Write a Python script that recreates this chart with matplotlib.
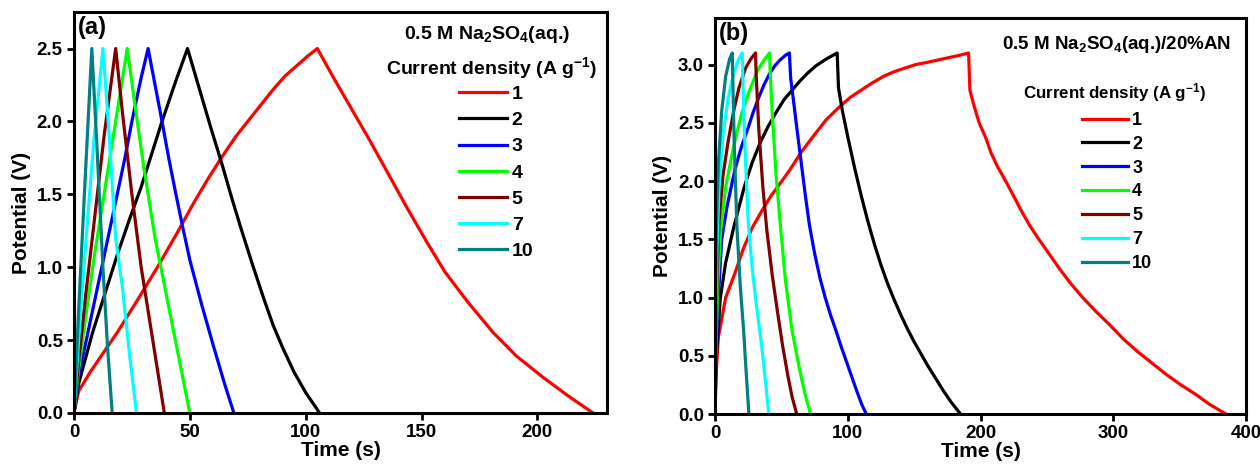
import matplotlib
matplotlib.use('Agg')
import matplotlib.pyplot as plt

plt.rcParams['font.family'] = ['Liberation Sans', 'DejaVu Sans']
plt.rcParams['font.weight'] = 'bold'
plt.rcParams['mathtext.fontset'] = 'custom'
plt.rcParams['mathtext.rm'] = 'Liberation Sans:bold'
plt.rcParams['mathtext.bf'] = 'Liberation Sans:bold'
plt.rcParams['mathtext.default'] = 'bf'

labels = ['1', '2', '3', '4', '5', '7', '10']
colors = ['#ff0000', '#000000', '#0000ff', '#00ff00', '#800000', '#00ffff', '#008080']

# panel (a): 0.5 M Na2SO4(aq.)  -- time (s), potential (V)
a_t = [
    [0, 2, 7, 19, 28, 36, 44, 52, 58, 64, 70, 75, 80, 86, 91, 96, 101, 105,
     112, 120, 128, 136, 144, 152, 160, 170, 181, 191, 202, 213, 224],
    [0, 2, 8, 14, 19, 24, 29, 34, 38, 44, 49, 54, 59, 64, 68, 72, 77, 82, 86, 90, 95, 100, 106],
    [0, 2, 6, 12, 18, 22, 25, 29, 32, 35, 38, 41, 44, 47, 50, 55, 60, 65, 69],
    [0, 2, 5, 9, 14, 19, 23, 26, 30, 35, 40, 45, 50],
    [0, 2, 5, 9, 13, 18, 21, 25, 29, 33, 36, 39],
    [0, 2, 5, 8.5, 12.5, 15, 18, 21, 24, 27],
    [0, 2, 4.5, 7.7, 10, 12.5, 14.5, 16.5],
]
a_v = [
    [0, 0.15, 0.28, 0.56, 0.79, 1.0, 1.22, 1.45, 1.61, 1.76, 1.9, 2.0, 2.1, 2.22, 2.31, 2.38, 2.45, 2.5,
     2.3, 2.08, 1.86, 1.63, 1.4, 1.18, 0.97, 0.76, 0.55, 0.39, 0.25, 0.12, 0],
    [0, 0.2, 0.55, 0.85, 1.1, 1.33, 1.55, 1.8, 2.0, 2.28, 2.5, 2.23, 1.96, 1.7, 1.48, 1.27, 1.02, 0.78, 0.6, 0.45, 0.28, 0.14, 0],
    [0, 0.25, 0.55, 1.0, 1.45, 1.75, 2.0, 2.3, 2.5, 2.25, 2.0, 1.74, 1.5, 1.27, 1.05, 0.75, 0.47, 0.2, 0],
    [0, 0.3, 0.65, 1.1, 1.6, 2.1, 2.5, 2.15, 1.7, 1.2, 0.8, 0.4, 0],
    [0, 0.35, 0.8, 1.35, 1.9, 2.5, 2.05, 1.5, 1.0, 0.6, 0.3, 0],
    [0, 0.5, 1.15, 1.85, 2.5, 1.95, 1.2, 0.85, 0.4, 0],
    [0, 0.7, 1.5, 2.5, 1.8, 1.0, 0.45, 0],
]

# panel (b): 0.5 M Na2SO4(aq.)/20%AN
b_t = [
    [0, 0.5, 2.5, 8, 15, 21, 28, 35, 42, 49, 56, 65, 75, 84, 94, 102, 110, 118, 127, 135, 143, 151, 160, 168, 176, 184, 191,
     192, 195, 199, 204, 208, 213, 219, 225, 231, 237, 244, 252, 260, 268, 277, 287, 297, 308, 319, 330, 340, 351, 362, 373, 385],
    [0, 1, 4, 8, 14, 22, 28, 34, 40, 46, 52, 58, 64, 70, 76, 84, 92,
     93, 96, 100, 105, 110, 115, 120, 125, 130, 135, 140, 145, 150, 155, 160, 166, 172, 178, 185],
    [0, 0.5, 2, 5, 9, 15, 20, 25, 29, 33, 37, 41, 45, 49, 53, 56,
     57, 59, 62, 65, 68, 71, 75, 79, 83, 87, 91, 95, 99, 103, 107, 111, 114],
    [0, 0.5, 2, 4, 8, 14, 20, 26, 32, 37, 41, 41.5, 43, 46, 49, 53, 58, 62, 66, 69, 72],
    [0, 0.5, 1.5, 3, 6, 10, 14, 18, 23, 27, 30.5, 31, 33, 36, 39, 43, 47, 51, 55, 58, 61.5],
    [0, 0.5, 1.5, 3, 6, 10, 14, 17.5, 20.5, 21, 22.5, 25, 28, 31, 35, 38, 40.5],
    [0, 0.3, 1, 2.5, 5, 8, 11, 13, 13.5, 14.5, 16.5, 19, 21.5, 23.5, 25.5],
]
b_v = [
    [0, 0.3, 0.66, 1.0, 1.21, 1.41, 1.6, 1.74, 1.87, 1.98, 2.09, 2.25, 2.4, 2.53, 2.64, 2.72, 2.78, 2.84, 2.9, 2.94, 2.97, 3.0, 3.02, 3.04, 3.06, 3.08, 3.1,
     2.78, 2.65, 2.5, 2.37, 2.24, 2.12, 2.0, 1.87, 1.74, 1.62, 1.5, 1.37, 1.24, 1.12, 1.0, 0.88, 0.77, 0.64, 0.53, 0.43, 0.34, 0.25, 0.17, 0.08, 0],
    [0, 0.5, 1.0, 1.3, 1.6, 1.95, 2.16, 2.33, 2.47, 2.59, 2.7, 2.78, 2.86, 2.93, 2.99, 3.05, 3.1,
     2.8, 2.6, 2.38, 2.12, 1.88, 1.66, 1.46, 1.28, 1.12, 0.98, 0.85, 0.73, 0.62, 0.52, 0.42, 0.31, 0.2, 0.1, 0],
    [0, 0.4, 0.9, 1.5, 1.78, 2.1, 2.3, 2.46, 2.6, 2.72, 2.83, 2.92, 2.99, 3.04, 3.08, 3.1,
     2.88, 2.7, 2.42, 2.15, 1.88, 1.63, 1.38, 1.17, 1.0, 0.85, 0.72, 0.58, 0.45, 0.32, 0.19, 0.07, 0],
    [0, 0.5, 1.1, 1.55, 1.95, 2.3, 2.58, 2.78, 2.95, 3.04, 3.1, 2.95, 2.6, 2.05, 1.65, 1.15, 0.72, 0.48, 0.26, 0.12, 0],
    [0, 0.6, 1.2, 1.65, 2.05, 2.35, 2.6, 2.8, 2.97, 3.05, 3.1, 2.9, 2.44, 1.95, 1.58, 1.2, 0.88, 0.58, 0.32, 0.15, 0],
    [0, 0.8, 1.45, 1.95, 2.4, 2.72, 2.92, 3.04, 3.1, 2.85, 2.3, 1.65, 1.25, 0.95, 0.6, 0.28, 0],
    [0, 0.9, 1.6, 2.15, 2.6, 2.9, 3.05, 3.1, 2.8, 2.3, 1.6, 1.1, 0.72, 0.35, 0],
]

a_xticks = [0, 50, 100, 150, 200]
a_yticks = [0.0, 0.5, 1.0, 1.5, 2.0, 2.5]
b_xticks = [0, 100, 200, 300, 400]
b_yticks = [0.0, 0.5, 1.0, 1.5, 2.0, 2.5, 3.0]

fig = plt.figure(figsize=(12.6, 4.7), dpi=100)
ax1 = fig.add_axes([0.0587, 0.1213, 0.4230, 0.8530])
ax2 = fig.add_axes([0.5675, 0.1190, 0.4214, 0.8426])


def style(ax, xt, yt, xlim, ylim):
    for s in ax.spines.values():
        s.set_linewidth(2.2)
    ax.set_xlim(*xlim)
    ax.set_ylim(*ylim)
    ax.set_xticks(xt)
    ax.set_yticks(yt)
    ax.set_yticklabels(['%.1f' % v for v in yt])
    ax.tick_params(direction='out', length=5, width=2, labelsize=13.5, pad=3, top=False, right=False)
    ax.set_xlabel('Time (s)', fontsize=15, fontweight='bold', labelpad=0)
    ax.set_ylabel('Potential (V)', fontsize=15, fontweight='bold', labelpad=4)


for t, v, c, l in zip(a_t, a_v, colors, labels):
    ax1.plot(t, v, color=c, lw=2.3, label=l)
style(ax1, a_xticks, a_yticks, (0, 230), (0, 2.75))
ax1.text(0.008, 0.99, '(a)', transform=ax1.transAxes, fontsize=17, fontweight='bold', va='top', ha='left')
ax1.text(0.775, 0.943, '0.5 M Na$_2$SO$_4$(aq.)', transform=ax1.transAxes, fontsize=14,
         fontweight='bold', ha='center', va='center')
ax1.text(0.784, 0.86, 'Current density (A g$^{-1}$)', transform=ax1.transAxes, fontsize=14,
         fontweight='bold', ha='center', va='center')
ax1.legend(loc='upper left', bbox_to_anchor=(0.722, 0.817), frameon=False, fontsize=14,
           handlelength=2.47, handletextpad=0.25, labelspacing=0.44, borderpad=0, borderaxespad=0)

for t, v, c, l in zip(b_t, b_v, colors, labels):
    ax2.plot(t, v, color=c, lw=2.3, label=l)
style(ax2, b_xticks, b_yticks, (0, 400), (0, 3.4))
ax2.text(0.008, 0.99, '(b)', transform=ax2.transAxes, fontsize=17, fontweight='bold', va='top', ha='left')
ax2.text(0.756, 0.932, '0.5 M Na$_2$SO$_4$(aq.)/20%AN', transform=ax2.transAxes, fontsize=13.5,
         fontweight='bold', ha='center', va='center')
ax2.text(0.753, 0.813, 'Current density (A g$^{-1}$)', transform=ax2.transAxes, fontsize=12.2,
         fontweight='bold', ha='center', va='center')
ax2.legend(loc='upper left', bbox_to_anchor=(0.692, 0.763), frameon=False, fontsize=13,
           handlelength=2.5, handletextpad=0.25, labelspacing=0.38, borderpad=0, borderaxespad=0)

fig.savefig('out.png', dpi=100)
